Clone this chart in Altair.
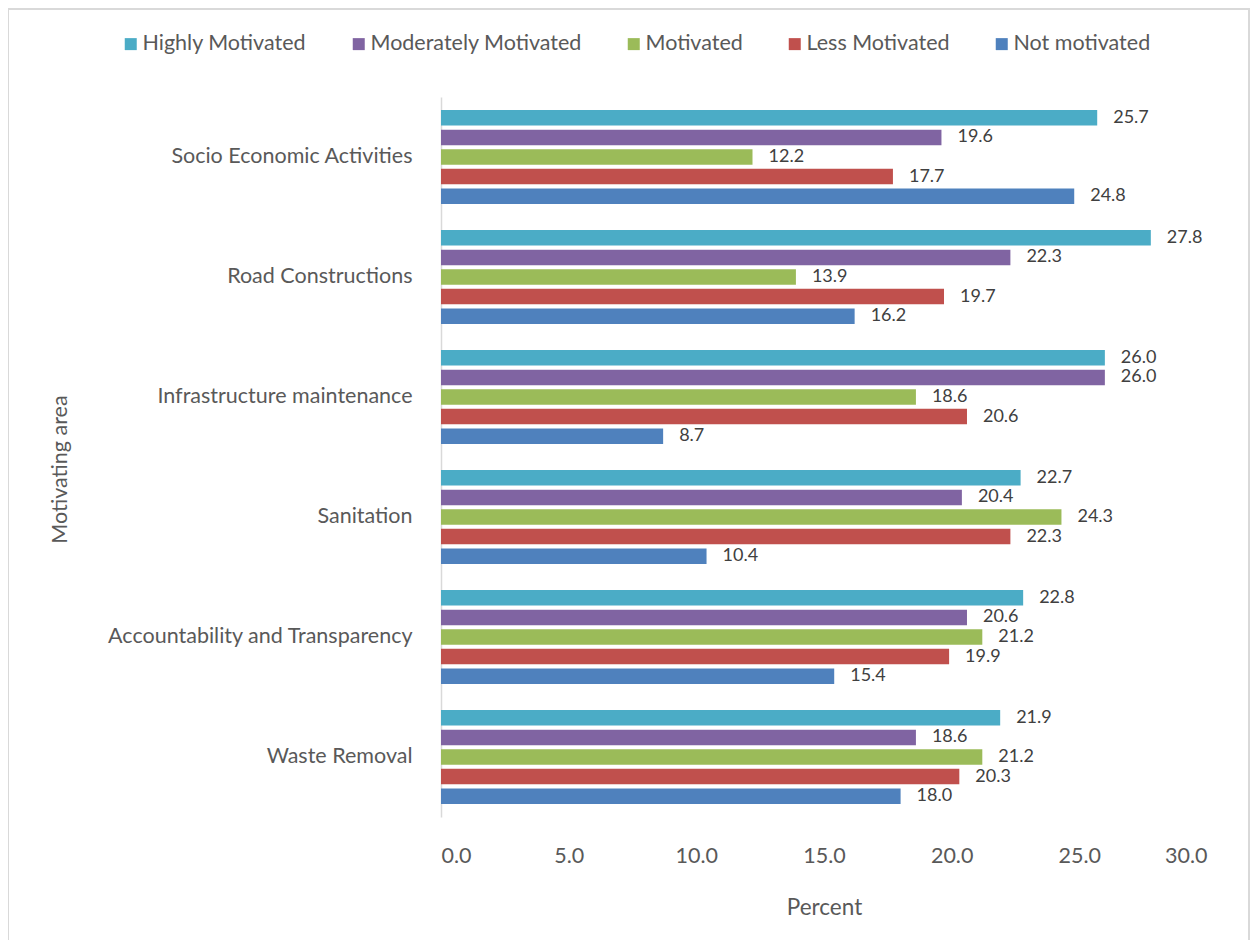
import altair as alt
import pandas as pd

categories = ["Socio Economic Activities", "Road Constructions", "Infrastructure maintenance",
              "Sanitation", "Accountability and Transparency", "Waste Removal"]
series = ["Highly Motivated", "Moderately Motivated", "Motivated", "Less Motivated", "Not motivated"]
colors = ["#4BACC6", "#8064A2", "#9BBB59", "#C0504D", "#4F81BD"]

highly = [25.7, 27.8, 26.0, 22.7, 22.8, 21.9]
moderately = [19.6, 22.3, 26.0, 20.4, 20.6, 18.6]
motivated = [12.2, 13.9, 18.6, 24.3, 21.2, 21.2]
less = [17.7, 19.7, 20.6, 22.3, 19.9, 20.3]
not_motivated = [24.8, 16.2, 8.7, 10.4, 15.4, 18.0]

vals = [highly, moderately, motivated, less, not_motivated]
rows = []
for s, v in zip(series, vals):
    for c, x in zip(categories, v):
        rows.append({"Area": c, "Level": s, "Percent": x})
df = pd.DataFrame(rows)

FONT = "Lato"
TXT = "#595959"

y_enc = alt.Y("Area:N", sort=categories,
              scale=alt.Scale(paddingInner=0.217, paddingOuter=0.1085),
              axis=alt.Axis(title="Motivating area", labelPadding=29, ticks=False,
                            domainColor="#D9D9D9", domainWidth=1.5, labelFontSize=21.5,
                            labelColor=TXT, titleFontSize=21.5, titleColor=TXT,
                            titleFontWeight="normal", titleX=-381, titleY=372,
                            titleAngle=270, titleAlign="center", titleBaseline="middle",
                            labelLimit=400))
yoff = alt.YOffset("Level:N", sort=series, scale=alt.Scale(paddingInner=0.21, paddingOuter=0))
x_enc = alt.X("Percent:Q", scale=alt.Scale(domain=[0, 30], nice=False),
              axis=alt.Axis(title="Percent", values=[0, 5, 10, 15, 20, 25, 30], format=".1f",
                            grid=False, ticks=False, domain=False, labelPadding=28,
                            labelFontSize=21.5, labelColor=TXT, titleFontSize=22.5,
                            titleColor=TXT, titleFontWeight="normal", titleY=90,
                            titleBaseline="middle"))

bars = alt.Chart(df).mark_bar().encode(
    x=x_enc, y=y_enc, yOffset=yoff,
    color=alt.Color("Level:N", sort=series,
                    scale=alt.Scale(domain=series, range=colors),
                    legend=alt.Legend(title=None, orient="none", direction="horizontal",
                                      legendX=-321, legendY=-64, symbolType="square",
                                      symbolSize=144, symbolStrokeWidth=0,
                                      labelFontSize=21.5, labelColor=TXT, labelOffset=1,
                                      columnPadding=41, labelLimit=400))
)

labels = alt.Chart(df).mark_text(align="left", baseline="middle", dx=16, fontSize=18,
                                 color="#404040", font=FONT).encode(
    x="Percent:Q", y=alt.Y("Area:N", sort=categories), yOffset=alt.YOffset("Level:N", sort=series),
    text=alt.Text("Percent:Q", format=".1f"))

border = alt.Chart(alt.Data(values=[{"a": 1}])).mark_rect(
    fill=None, stroke="#D9D9D9", strokeWidth=2).encode(
    x=alt.value(-433), x2=alt.value(808), y=alt.value(-88), y2=alt.value(845))

chart = alt.layer(border, bars, labels).properties(
    width=766, height=720,
    padding={"left": 433, "top": 89, "right": 43, "bottom": 123},
    autosize=alt.AutoSizeParams(type="none"),
    background="white",
).configure(font=FONT).configure_view(stroke=None)

chart.save("out.html", embed_options={"renderer": "svg", "actions": False})
